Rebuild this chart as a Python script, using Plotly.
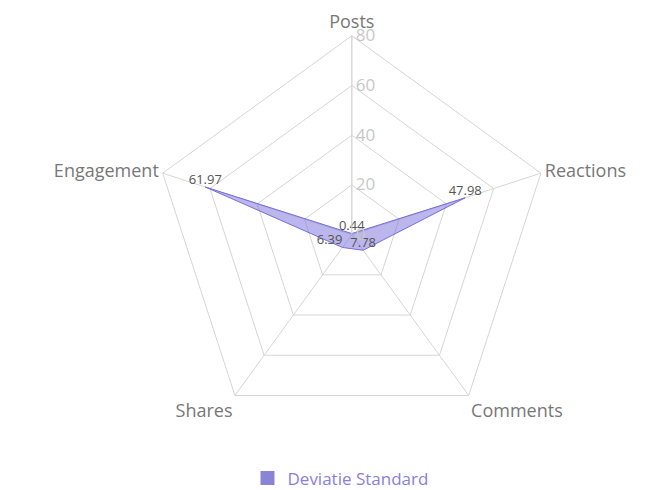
import plotly.graph_objects as go

categories = ["Posts", "Reactions", "Comments", "Shares", "Engagement"]
values = [0.44, 47.98, 7.78, 6.39, 61.97]
series_name = "Deviatie Standard"
radial_ticks = [0, 20, 40, 60, 80]

r_closed = values + [values[0]]
theta_closed = categories + [categories[0]]
labels = [f"{v:.2f}" for v in values] + [""]
label_pos = ["top center", "top center", "top center", "top left", "top center", "top center"]

fig = go.Figure()
fig.add_trace(go.Scatterpolar(
    r=r_closed,
    theta=theta_closed,
    mode="lines+text",
    text=labels,
    textposition=label_pos,
    textfont=dict(size=13, color="#555555"),
    fill="toself",
    fillcolor="rgba(120,110,215,0.5)",
    line=dict(color="rgba(110,100,215,0.9)", width=1),
    name=series_name,
    showlegend=False,
))
# legend entry with square symbol
fig.add_trace(go.Scatterpolar(
    r=[None], theta=[categories[0]],
    mode="markers",
    marker=dict(symbol="square", size=14, color="#8a83d6"),
    name=series_name,
    showlegend=True,
))

fig.update_layout(
    width=665, height=490,
    margin=dict(l=0, r=0, t=0, b=0),
    paper_bgcolor="white",
    font=dict(family="Open Sans, Noto Sans, sans-serif"),
    polar=dict(
        domain=dict(x=[0.218, 0.816], y=[0.13, 0.945]),
        gridshape="linear",
        bgcolor="white",
        radialaxis=dict(
            range=[0, 80],
            tickvals=radial_ticks,
            angle=90,
            tickangle=90,
            showline=True,
            linecolor="#d6d6d6",
            gridcolor="#d6d6d6",
            ticks="",
            tickfont=dict(size=17, color="#c8c8c8"),
        ),
        angularaxis=dict(
            direction="clockwise",
            rotation=90,
            linecolor="#d6d6d6",
            gridcolor="#d6d6d6",
            ticks="",
            tickfont=dict(size=18, color="#777777"),
        ),
    ),
    legend=dict(
        orientation="h",
        x=0.5, xanchor="center",
        y=0.04, yanchor="middle",
        font=dict(size=17, color="#8a80dc"),
    ),
)

fig.write_html("out.html")
